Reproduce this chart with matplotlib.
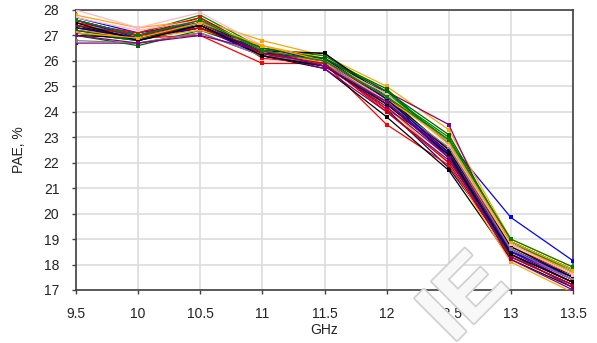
import matplotlib
matplotlib.use("Agg")
import matplotlib.pyplot as plt
import matplotlib.patheffects as pe

plt.rcParams['font.family'] = ['Liberation Sans', 'DejaVu Sans']

freq = [9.5, 10, 10.5, 11, 11.5, 12, 12.5, 13, 13.5]

# PAE per sample, %
pae = [
    [27.6, 27.0, 27.6, 26.3, 26.0, 24.3, 22.4, 18.6, 17.4],
    [27.4, 26.9, 27.4, 26.4, 26.0, 24.6, 22.8, 19.85, 18.15],
    [27.3, 27.1, 27.8, 26.5, 26.1, 24.7, 22.9, 18.9, 17.8],
    [27.1, 26.8, 27.3, 26.3, 26.3, 24.5, 22.2, 18.5, 17.6],
    [27.8, 27.3, 27.6, 26.8, 26.2, 25.0, 23.3, 19.0, 17.9],
    [26.7, 26.7, 27.1, 26.2, 25.8, 24.8, 23.5, 18.3, 17.2],
    [28.0, 27.3, 27.9, 26.6, 26.0, 24.4, 22.6, 18.7, 17.5],
    [27.5, 27.0, 27.5, 26.2, 25.9, 24.1, 21.8, 18.5, 17.3],
    [27.0, 26.6, 27.2, 26.4, 26.1, 24.9, 22.7, 18.8, 17.7],
    [27.2, 26.9, 27.0, 25.9, 25.9, 23.5, 21.9, 18.4, 17.3],
    [27.7, 27.1, 27.5, 26.5, 26.0, 24.6, 22.3, 18.6, 17.5],
    [27.1, 26.8, 27.5, 26.4, 26.0, 24.7, 23.0, 18.8, 17.8],
    [27.4, 26.8, 27.4, 26.2, 25.7, 23.8, 21.7, 18.2, 17.1],
    [27.5, 27.0, 27.4, 26.5, 25.9, 24.2, 22.0, 18.1, 16.9],
    [27.3, 26.9, 27.3, 26.3, 25.7, 24.0, 22.1, 18.4, 17.1],
    [27.6, 27.0, 27.7, 26.4, 26.0, 24.5, 22.5, 18.6, 17.4],
    [27.2, 26.9, 27.4, 26.3, 25.8, 24.3, 22.4, 18.5, 17.4],
    [27.5, 27.1, 27.7, 26.1, 25.9, 24.1, 22.6, 18.7, 17.6],
    [27.6, 26.9, 27.3, 26.2, 25.8, 24.4, 22.3, 18.5, 17.5],
    [27.4, 27.0, 27.6, 26.5, 26.2, 24.8, 22.8, 18.9, 17.7],
    [27.0, 26.9, 27.5, 26.4, 26.3, 24.6, 22.5, 18.7, 17.5],
    [27.2, 26.9, 27.2, 26.6, 26.1, 24.5, 22.9, 18.8, 17.7],
    [27.6, 27.0, 27.5, 26.3, 25.8, 24.2, 22.2, 18.3, 17.2],
    [26.8, 26.7, 27.1, 26.2, 25.9, 24.4, 22.6, 18.6, 17.4],
    [27.7, 27.2, 27.6, 26.4, 26.0, 24.7, 22.7, 18.8, 17.6],
    [27.3, 26.9, 27.4, 26.3, 26.1, 24.5, 22.4, 18.4, 17.3],
    [27.2, 26.8, 27.5, 26.5, 26.1, 24.8, 23.1, 18.9, 17.8],
    [27.4, 27.0, 27.3, 26.3, 25.9, 24.0, 22.0, 18.3, 17.2],
    [27.5, 26.8, 27.4, 26.2, 25.8, 24.3, 22.3, 18.4, 17.3],
    [27.1, 26.9, 27.5, 26.6, 26.0, 24.6, 22.8, 18.9, 17.8],
    [27.0, 26.7, 27.0, 26.4, 25.8, 24.4, 22.2, 18.2, 17.0],
    [27.6, 27.0, 27.6, 26.4, 26.0, 24.6, 22.9, 19.0, 17.9],
]

colors = ['#ff0000', '#0000ff', '#008000', '#000000', '#ffa500', '#800080',
          '#ffb6c1', '#000080', '#006400', '#ff0000', '#0000ff', '#008000',
          '#000000', '#ffa500', '#800080', '#8b0000', '#cc00cc', '#ff0000',
          '#0000ff', '#008000', '#000000', '#ffa500', '#800080', '#808080',
          '#ffb6c1', '#000080', '#006400', '#cc0000', '#000000', '#ffa500',
          '#800080', '#008000']

fig = plt.figure(figsize=(5.97, 3.43), dpi=100)
ax = fig.add_axes([76 / 597, 53 / 343, 497 / 597, 280 / 343])

for row, c in zip(pae, colors):
    ax.plot(freq, row, color=c, lw=0.9, marker='s', ms=2.8,
            markeredgewidth=0, zorder=3)

ax.set_xlim(9.5, 13.5)
ax.set_ylim(17, 28)
ax.set_xticks(freq)
ax.set_xticklabels(['9.5', '10', '10.5', '11', '11.5', '12', '12.5', '13', '13.5'])
ax.set_yticks(range(17, 29))
ax.grid(True, color='#dddddd', lw=1.2, zorder=0)
ax.set_axisbelow(True)

for s in ax.spines.values():
    s.set_color('#404040')
    s.set_linewidth(1.2)
ax.tick_params(axis='both', direction='out', length=3, width=1, color='#404040',
               labelsize=10, labelcolor='#222222', pad=9)

ax.set_xlabel('GHz', fontsize=10, color='#222222', labelpad=2)
ax.set_ylabel('PAE, %', fontsize=10, color='#222222', labelpad=13)

# faint site logo over the lower right
fig.text(466 / 597, 1 - 300 / 343, 'IE', rotation=45, fontsize=62,
         fontweight='bold', color='#f8f8f8', ha='center', va='center',
         zorder=10,
         path_effects=[pe.withStroke(linewidth=2.5, foreground='#d0d0d0')])

fig.savefig('out.png', dpi=100)
